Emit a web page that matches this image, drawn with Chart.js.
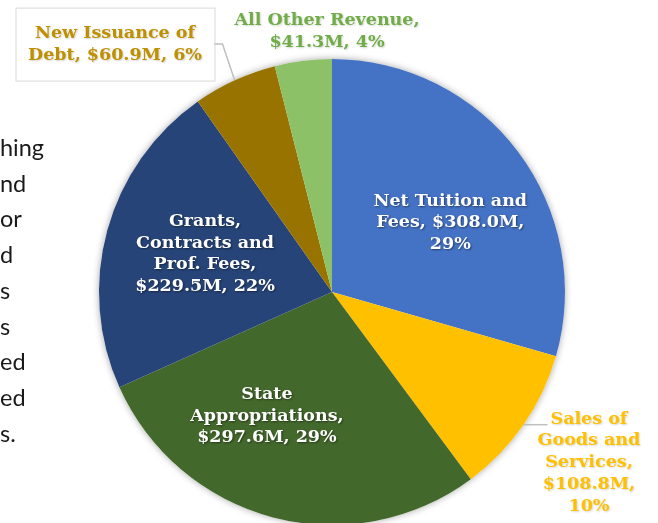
<!DOCTYPE html>
<html>
<head>
<meta charset="utf-8">
<script src="https://cdn.jsdelivr.net/npm/chart.js@4/dist/chart.umd.min.js"></script>
<style>
  html, body { margin: 0; padding: 0; background: #fff; overflow: hidden; }
  #wrap { position: relative; width: 658px; height: 523px; }
  #side {
    position: absolute; left: 0; top: 130px;
    font-family: Lato, "Liberation Sans", sans-serif; font-size: 23.5px;
    line-height: 35.7px; color: #1a1a1a;
  }
  canvas { position: absolute; left: 0; top: 0; }
</style>
</head>
<body>
<div id="wrap">
  <canvas id="revenuePie" width="658" height="523"></canvas>
  <div id="side">
    <div>hing</div><div>nd</div><div>or</div><div>d</div><div>s</div>
    <div>s</div><div>ed</div><div>ed</div><div>s.</div>
  </div>
</div>
<script>
// Revenue sources, $M, clockwise from 12 o'clock
const categories = ['Net Tuition and Fees', 'Sales of Goods and Services', 'State Appropriations',
                    'Grants, Contracts and Prof. Fees', 'New Issuance of Debt', 'All Other Revenue'];
const revenue = [308.0, 108.8, 297.6, 229.5, 60.9, 41.3];
const shares = [29, 10, 29, 22, 6, 4];
const sliceColors = ['#4472C4', '#FFC000', '#43682B', '#264478', '#997300', '#8CC168'];

const money = v => '$' + v.toFixed(1) + 'M';

// label text, line by line
const labelLines = [
    ['Net Tuition and', 'Fees, ' + money(revenue[0]) + ',', shares[0] + '%'],
    ['Sales of', 'Goods and', 'Services,', money(revenue[1]) + ',', shares[1] + '%'],
    ['State', 'Appropriations,', money(revenue[2]) + ', ' + shares[2] + '%'],
    ['Grants,', 'Contracts and', 'Prof. Fees,', money(revenue[3]) + ', ' + shares[3] + '%'],
    ['New Issuance of', 'Debt, ' + money(revenue[4]) + ', ' + shares[4] + '%'],
    ['All Other Revenue,', money(revenue[5]) + ', ' + shares[5] + '%']
];
// label placement: angle (deg clockwise from top) and distance as a share of the radius
const labelAngle = [59.7, 123.6, 207.7, 286.7, 318.8, 358.9];
const labelDist = [0.588, 1.324, 0.601, 0.569, 1.414, 1.12];
const labelColors = ['#ffffff', '#FFC000', '#ffffff', '#ffffff', '#BF9000', '#70AD47'];

const lineHeight = 21.8;

const pieShadow = {
    id: 'pieShadow',
    beforeDatasetsDraw(chart) {
        const arc = chart.getDatasetMeta(0).data[0];
        if (!arc) return;
        const ctx = chart.ctx;
        ctx.save();
        ctx.shadowColor = 'rgba(0,0,0,0.35)';
        ctx.shadowBlur = 7;
        ctx.fillStyle = '#ffffff';
        ctx.beginPath();
        ctx.arc(arc.x, arc.y, arc.outerRadius, 0, Math.PI * 2);
        ctx.fill();
        ctx.restore();
    }
};

const sliceLabels = {
    id: 'sliceLabels',
    afterDatasetsDraw(chart) {
        const ctx = chart.ctx;
        const arcs = chart.getDatasetMeta(0).data;
        ctx.save();
        ctx.font = 'bold 17.5px "DejaVu Serif", Georgia, serif';
        ctx.textAlign = 'center';
        ctx.textBaseline = 'middle';
        arcs.forEach((arc, i) => {
            const cx = arc.x, cy = arc.y, R = arc.outerRadius;
            const a = labelAngle[i] * Math.PI / 180;
            const lx = cx + Math.sin(a) * R * labelDist[i];
            const ly = cy - Math.cos(a) * R * labelDist[i];
            const lines = labelLines[i];
            const top = ly - (lines.length - 1) * lineHeight / 2;
            const outside = labelDist[i] > 1;

            // leader lines for the outside labels that need them
            const mid = (arc.startAngle + arc.endAngle) / 2;
            const ex = cx + Math.cos(mid) * R, ey = cy + Math.sin(mid) * R;
            ctx.strokeStyle = '#bfbfbf';
            ctx.lineWidth = 1.5;
            if (i === 1) {
                const w0 = ctx.measureText(lines[0]).width;
                ctx.beginPath();
                ctx.moveTo(ex, ey);
                ctx.lineTo(lx - w0 / 2 - 3, ey);
                ctx.stroke();
            }
            if (i === 4) {
                // boxed label
                const bw = 199, bh = 73;
                ctx.fillStyle = '#ffffff';
                ctx.fillRect(lx - bw / 2, ly - bh / 2, bw, bh);
                ctx.strokeStyle = '#d9d9d9';
                ctx.lineWidth = 1;
                ctx.strokeRect(lx - bw / 2 + 0.5, ly - bh / 2 + 0.5, bw, bh);
                ctx.strokeStyle = '#bfbfbf';
                ctx.lineWidth = 1.5;
                ctx.beginPath();
                ctx.moveTo(lx + bw / 2, ly);
                ctx.lineTo(lx + bw / 2 + 8, ly);
                ctx.lineTo(ex, ey);
                ctx.stroke();
            }

            ctx.shadowColor = outside ? 'rgba(0,0,0,0.18)' : 'rgba(0,0,0,0.45)';
            ctx.shadowBlur = 2;
            ctx.shadowOffsetX = 1;
            ctx.shadowOffsetY = 1;
            ctx.fillStyle = labelColors[i];
            lines.forEach((t, k) => ctx.fillText(t, lx, top + k * lineHeight));
            ctx.shadowColor = 'transparent';
        });
        ctx.restore();
    }
};

new Chart(document.getElementById('revenuePie'), {
    type: 'pie',
    data: {
        labels: categories,
        datasets: [{
            data: revenue,
            backgroundColor: sliceColors,
            borderWidth: 0,
            clip: false
        }]
    },
    options: {
        responsive: false,
        animation: false,
        radius: 233,
        layout: { padding: { left: 99, right: 93, top: 61, bottom: 0 } },
        plugins: {
            legend: { display: false },
            tooltip: { enabled: false }
        }
    },
    plugins: [pieShadow, sliceLabels]
});
</script>
</body>
</html>
